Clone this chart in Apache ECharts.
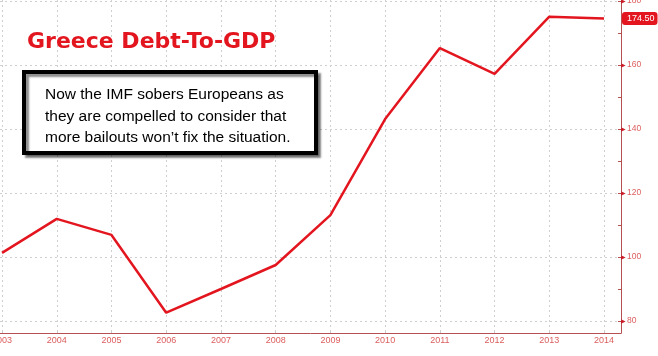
<!DOCTYPE html>
<html><head><meta charset="utf-8">
<script src="https://cdn.jsdelivr.net/npm/echarts@6/dist/echarts.min.js"></script>
<style>html,body{margin:0;padding:0;background:#fff}#c{width:658px;height:356px}</style>
</head><body><div id="c"></div>
<script>
const years = [2003,2004,2005,2006,2007,2008,2009,2010,2011,2012,2013,2014];
const debtToGdp = [101.3,111.9,106.9,82.6,90.0,97.5,113.1,143.1,165.3,157.2,175.1,174.5];
const yTicks = [80,100,120,140,160,180];
const lastValueLabel = '174.50';
const titleText = 'Greece Debt-To-GDP';
const noteText = 'Now the IMF sobers Europeans as\nthey are compelled to consider that\nmore bailouts won\u2019t fix the situation.';

const red = '#e3161f';
const labelRed = '#dc5e5e';
const axisRed = '#b45050';

const chart = echarts.init(document.getElementById('c'));
chart.setOption({
  animation: false,
  backgroundColor: '#fff',
  title: [
    { text: titleText, left: 27, top: 31, padding: 0,
      textStyle: { color: red, fontSize: 22, fontWeight: 'bold', fontFamily: 'DejaVu Sans' } },
    { text: noteText, left: 24, top: 72, padding: [12, 26, 5, 21],
      backgroundColor: '#fff', borderColor: '#000', borderWidth: 4,
      shadowColor: 'rgba(0,0,0,0.45)', shadowOffsetX: 3, shadowOffsetY: 3, shadowBlur: 2,
      textStyle: { color: '#000', fontSize: 15.5, fontWeight: 'normal', lineHeight: 21.5, fontFamily: 'Liberation Sans' } }
  ],
  grid: { left: 0, right: 37, top: 0, bottom: 23, containLabel: false, outerBoundsMode: 'none' },
  xAxis: {
    type: 'value', min: 2002.963, max: 2014.31,
    axisLine: { show: true, lineStyle: { color: axisRed, width: 1 } },
    axisTick: { show: true, inside: true, length: 3, customValues: years, lineStyle: { color: '#ccc' } },
    axisLabel: { customValues: years, formatter: v => String(v), color: labelRed, fontSize: 9, margin: 3,
      fontFamily: 'Liberation Sans Narrow, Liberation Sans' },
    splitLine: { show: true, lineStyle: { color: '#cfcfcf', type: [2, 3], width: 1 } }
  },
  yAxis: {
    type: 'value', position: 'right', min: 76.25, max: 180.3,
    axisLine: { show: true, lineStyle: { color: axisRed, width: 1 } },
    axisTick: { show: true, inside: true, length: 3, customValues: yTicks, lineStyle: { color: axisRed } },
    minorTick: { show: true, splitNumber: 2, length: 3, lineStyle: { color: axisRed } },
    axisLabel: { customValues: yTicks, color: labelRed, fontSize: 8.5, margin: 0, fontFamily: 'Liberation Sans',
      formatter: v => '{t|\u25B6}' + v,
      rich: { t: { color: '#c8202a', fontSize: 6, padding: [0, 1, 0, 0] } } },
    splitLine: { show: true, lineStyle: { color: '#cfcfcf', type: [2, 3], width: 1 } },
    axisPointer: {
      show: true, status: 'show', value: 174.5, triggerTooltip: false,
      lineStyle: { opacity: 0 },
      label: { show: true, formatter: () => lastValueLabel, backgroundColor: red, color: '#fff',
        fontSize: 9, fontFamily: 'Liberation Sans', padding: [2, 3, 2, 5], borderRadius: 3, margin: 1 }
    }
  },
  series: [{
    type: 'line',
    data: years.map((y, i) => [y, debtToGdp[i]]),
    showSymbol: false, symbol: 'none',
    lineStyle: { color: red, width: 2.5 },
    z: 5
  }]
});
</script></body></html>
